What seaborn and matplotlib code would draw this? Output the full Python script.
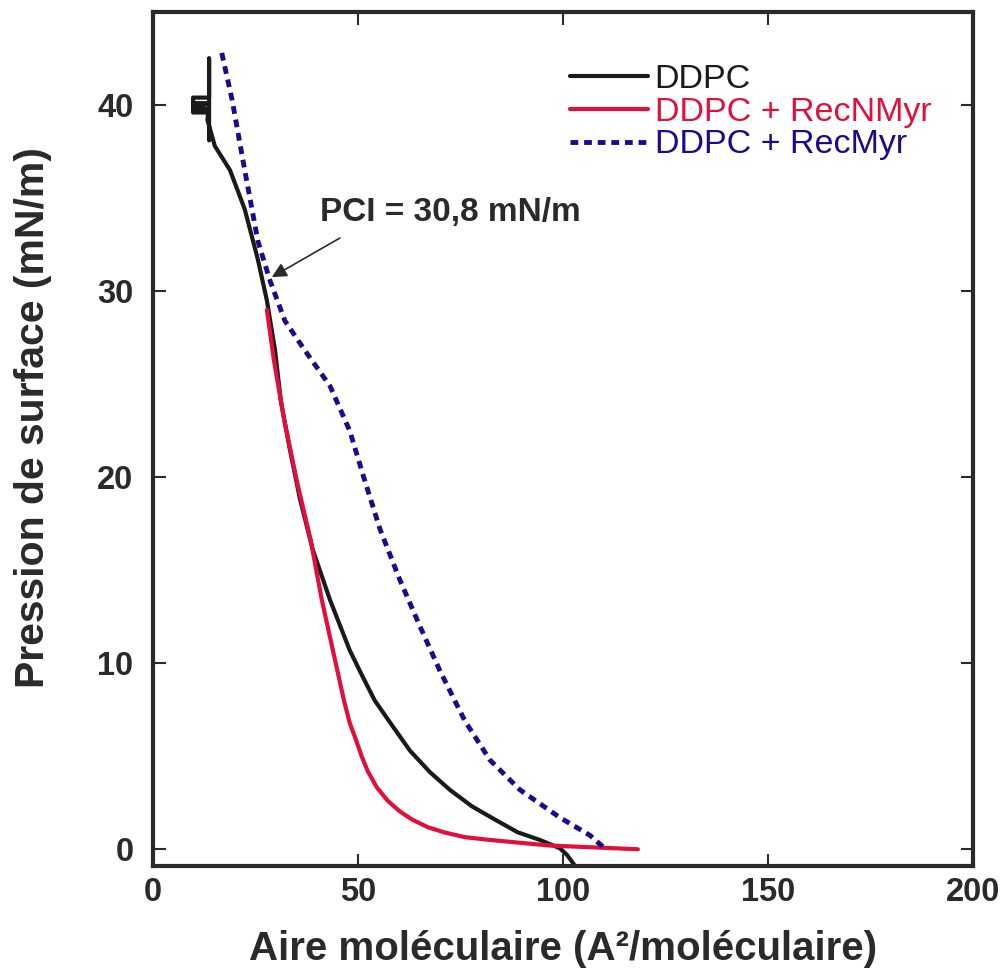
import pandas as pd
import matplotlib.pyplot as plt
import seaborn as sns

# isothermes de compression
ddpc_x = [13.7, 13.7, 13.7, 9.8, 9.8, 13.6, 9.8, 13.6, 9.8, 13.6, 13.3, 15.1, 18.8, 22.4, 25.6,
          27.8, 29.8, 31.2, 33.4, 35.9, 39.0, 43.2, 48.0, 51.0, 54.1, 58.3, 62.7, 67.6, 72.4,
          77.8, 83.4, 89.0, 94.4, 99.3, 101.0, 103.0]
ddpc_y = [38.1, 42.5, 40.4, 40.4, 39.6, 39.6, 40.1, 40.1, 39.8, 39.8, 39.2, 37.8, 36.5, 34.4, 31.7,
          29.5, 26.8, 24.1, 21.5, 18.8, 16.1, 13.4, 10.7, 9.35, 8.0, 6.67, 5.3, 4.14, 3.2,
          2.31, 1.6, 0.91, 0.5, 0.05, -0.3, -0.9]

nmyr_x = [27.8, 29.5, 32.0, 35.1, 38.5, 41.2, 43.9, 46.6, 48.0, 49.5, 51.0, 52.4, 54.6, 57.3,
          60.2, 63.2, 67.1, 71.2, 76.1, 82.2, 96.8, 118.3]
nmyr_y = [29.0, 26.3, 23.1, 19.8, 16.6, 13.4, 10.7, 8.0, 6.8, 5.9, 4.95, 4.2, 3.33, 2.6,
          2.04, 1.6, 1.18, 0.9, 0.65, 0.5, 0.2, 0.0]

myr_x = [16.8, 19.3, 22.4, 25.6, 28.5, 32.2, 37.1, 43.2, 48.0, 51.7, 55.4, 60.2, 65.1, 70.0,
         76.1, 82.2, 89.5, 99.3, 106.6, 110.2]
myr_y = [42.8, 40.3, 36.5, 32.7, 30.6, 28.4, 26.8, 24.9, 22.5, 19.8, 17.2, 14.5, 12.0, 9.6,
         6.9, 4.8, 3.2, 1.7, 0.75, 0.05]

labels = ['DDPC', 'DDPC + RecNMyr', 'DDPC + RecMyr']
colors = ['#1a1a1a', '#e0103a', '#1a0a8c']
dash = (0, (1.6, 1.2))

sns.set_style('ticks')
plt.rcParams['font.family'] = ['Liberation Sans', 'DejaVu Sans']

fig = plt.figure(figsize=(10.06, 9.76), dpi=100)
ax = fig.add_axes([0.152, 0.1127, 0.815, 0.875])

sns.lineplot(x=ddpc_x, y=ddpc_y, sort=False, estimator=None, color=colors[0], lw=3, label=labels[0], ax=ax)
sns.lineplot(x=nmyr_x, y=nmyr_y, sort=False, estimator=None, color=colors[1], lw=3, label=labels[1], ax=ax)
sns.lineplot(x=myr_x, y=myr_y, sort=False, estimator=None, color=colors[2], lw=3.5, label=labels[2], ax=ax)
ax.lines[2].set_linestyle(dash)

ax.set_xlim(0, 200)
ax.set_ylim(-0.9, 45)
ax.set_xticks([0, 50, 100, 150, 200])
ax.set_yticks([0, 10, 20, 30, 40])
ax.tick_params(direction='in', length=9, width=1.5, top=True, right=True, labelsize=23.5,
               colors='#2a2a2a')
ax.tick_params(axis='y', pad=14)
ax.tick_params(axis='x', pad=8)
for t in ax.get_xticklabels() + ax.get_yticklabels():
    t.set_fontweight('bold')
for s in ax.spines.values():
    s.set_linewidth(3)
    s.set_color('#2a2a2a')

ax.set_xlabel('Aire moléculaire (A²/moléculaire)', fontsize=29, fontweight='bold',
              color='#2a2a2a', va='top')
ax.xaxis.set_label_coords(0.5, -0.075)
ax.set_ylabel('Pression de surface (mN/m)', fontsize=29.5, fontweight='bold',
              color='#2a2a2a')
ax.yaxis.set_label_coords(-0.123, 0.525)

ax.text(40.7, 34.2, 'PCI = 30,8 mN/m', fontsize=24, fontweight='bold', color='#2a2a2a',
        ha='left', va='center')
ax.annotate('', xy=(29.0, 30.75), xytext=(45.6, 32.85),
            arrowprops=dict(arrowstyle='-|>', color='#2a2a2a', lw=1.2,
                            mutation_scale=22, shrinkA=0, shrinkB=0))

leg = ax.legend(loc='upper right', bbox_to_anchor=(0.966, 0.955), frameon=False, fontsize=24.5,
                handlelength=2.3, handletextpad=0.2, labelspacing=0.05, borderaxespad=0)
for txt, c in zip(leg.get_texts(), colors):
    txt.set_color(c)
leg.get_lines()[2].set_linestyle(dash)

plt.savefig('out.png', dpi=100)
